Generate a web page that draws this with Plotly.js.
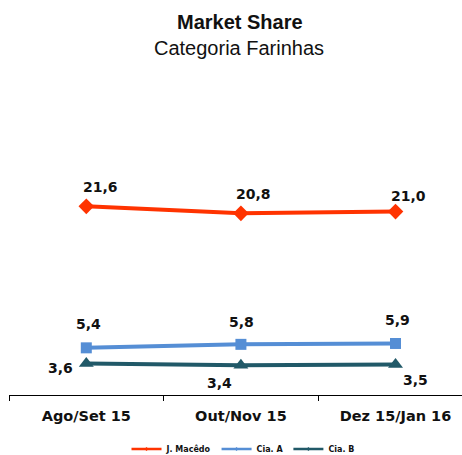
<!DOCTYPE html>
<html>
<head>
<meta charset="utf-8">
<script src="https://cdn.plot.ly/plotly-3.0.1.min.js"></script>
<style>html,body{margin:0;padding:0;background:#fff;}#chart{width:462px;height:455px;}</style>
</head>
<body>
<div id="chart"></div>
<script>
// ---- data ----
const categories = ["Ago/Set 15", "Out/Nov 15", "Dez 15/Jan 16"];
const seriesNames = ["J. Macêdo", "Cia. A", "Cia. B"];
const jMacedo = [21.6, 20.8, 21.0];
const ciaA = [5.4, 5.8, 5.9];
const ciaB = [3.6, 3.4, 3.5];
const titleText = "Market Share";
const subtitleText = "Categoria Farinhas";

// ---- styles / label offsets (pixels) ----
const colors = ["#FF3300", "#558ED5", "#215968"];
const symbols = ["diamond", "square", "triangle-up"];
const msizes = [12, 11, 13];
const labelShiftX = [[14, 13, 13], [2, 1, 2], [-26, -21, 20]];
const labelShiftY = [[19, 19, 16], [24, 22, 23], [-4, -18, -16]];

const allSeries = [jMacedo, ciaA, ciaB];
const traces = allSeries.map((vals, i) => ({
  type: "scatter",
  mode: "lines+markers",
  name: seriesNames[i],
  x: categories,
  y: vals,
  line: {color: colors[i], width: 4},
  marker: {color: colors[i], symbol: symbols[i], size: msizes[i]},
  cliponaxis: false,
  showlegend: false
}));
// legend-only entries (thin lines, tiny markers like the reference legend)
seriesNames.forEach((n, i) => {
  traces.push({
    type: "scatter", mode: "lines+markers", name: n,
    x: [null], y: [null],
    line: {color: colors[i], width: 2.5},
    marker: {color: colors[i], symbol: "diamond", size: 3},
    showlegend: true
  });
});

const annotations = [];
allSeries.forEach((vals, i) => {
  vals.forEach((v, j) => {
    annotations.push({
      xref: "x", yref: "y", x: categories[j], y: v,
      text: v.toFixed(1).replace(".", ","),
      showarrow: false,
      xshift: labelShiftX[i][j], yshift: labelShiftY[i][j],
      font: {family: "DejaVu Sans", size: 14, weight: "bold", color: "#111"}
    });
  });
});
annotations.push({
  xref: "paper", yref: "paper", x: (240 - 9) / 453, y: (395 - 22) / 262,
  xanchor: "center", yanchor: "middle", showarrow: false,
  text: "<b>" + titleText + "</b>",
  font: {family: "Liberation Sans", size: 20, color: "#111"}
});
annotations.push({
  xref: "paper", yref: "paper", x: (239 - 9) / 453, y: (395 - 48) / 262,
  xanchor: "center", yanchor: "middle", showarrow: false,
  text: subtitleText,
  font: {family: "Liberation Sans", size: 20, color: "#111"}
});

const layout = {
  width: 462, height: 455,
  margin: {l: 9, r: 0, t: 133, b: 60, autoexpand: false},
  paper_bgcolor: "#fff", plot_bgcolor: "#fff",
  showlegend: true,
  xaxis: {
    type: "category",
    range: [-0.5, 2.43],
    tickson: "boundaries",
    ticks: "outside", ticklen: 5, tickcolor: "#000", tickwidth: 1,
    ticklabelstandoff: 8,
    showline: true, linecolor: "#000", linewidth: 1,
    showgrid: false, zeroline: false,
    tickfont: {family: "DejaVu Sans", size: 14.5, weight: "bold", color: "#111"},
    automargin: false,
    fixedrange: true
  },
  yaxis: {
    range: [0, 30],
    visible: false, showgrid: false, zeroline: false, automargin: false
  },
  legend: {
    orientation: "h",
    xref: "container", x: 243 / 462, xanchor: "center",
    yref: "container", y: 6 / 455, yanchor: "middle",
    font: {family: "DejaVu Sans", size: 8, weight: "bold", color: "#111"},
    itemwidth: 30,
    bgcolor: "rgba(0,0,0,0)"
  },
  annotations: annotations
};

Plotly.newPlot("chart", traces, layout, {displayModeBar: false, staticPlot: true});
</script>
</body>
</html>
